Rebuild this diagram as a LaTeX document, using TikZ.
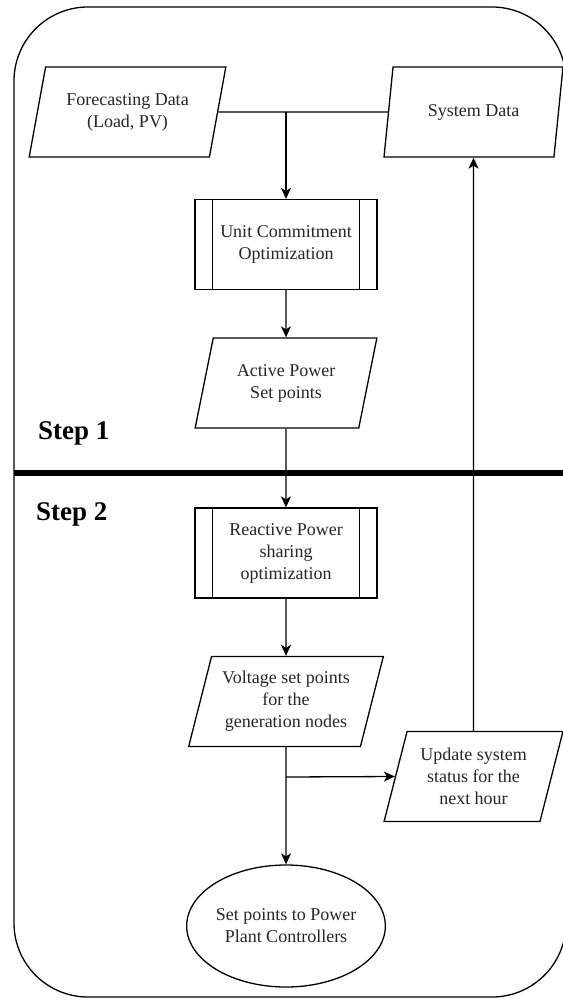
\documentclass[tikz,border=0pt]{standalone}
\usepackage{fontspec}
\setmainfont{Liberation Serif}
\usetikzlibrary{shapes.geometric,arrows.meta}
\begin{document}
\begin{tikzpicture}[x=1pt,y=-1pt,
  every node/.style={font=\rmfamily\fontsize{18}{22}\selectfont, align=center, inner sep=0pt, text=black!85},
  io/.style={draw=black, line width=1.3pt, trapezium, trapezium stretches=true,
    trapezium left angle=72, trapezium right angle=108, minimum height=90pt},
  subproc/.style={draw=black, line width=1.3pt, rectangle, minimum width=182pt, minimum height=90pt},
  term/.style={draw=black, line width=1.3pt, ellipse, minimum width=182pt, minimum height=122pt},
  flow/.style={line width=1.3pt, -{Stealth[length=11pt,width=10pt,inset=3pt]}},
  plain/.style={line width=1.3pt},
  steplabel/.style={font=\rmfamily\bfseries\fontsize{27}{30}\selectfont, anchor=base west, text=black}
]
\useasboundingbox (0,0) rectangle (562,1000);

% outer frame and step separator
\draw[line width=1.3pt, rounded corners=74pt] (14,7) rectangle (566,997);
\draw[line width=6.5pt] (14,473) -- (566,473);
\node[steplabel] (s1) at (38,439) {Step 1};
\node[steplabel] (s2) at (36,520) {Step 2};

% flowchart blocks
\node[io, minimum width=197pt] (fc) at (127.5,112) {Forecasting Data\\(Load, PV)};
\node[io, minimum width=179pt] (sd) at (473.5,112) {System Data};
\node[subproc] (uc) at (286,244.5) {Unit Commitment\\Optimization};
\node[io, minimum width=182pt] (ap) at (286,383) {Active Power\\Set points};
\node[subproc] (rp) at (286,553) {Reactive Power\\sharing\\optimization};
\node[io, minimum width=195pt] (vs) at (286,701.5) {Voltage set points\\for the\\generation nodes};
\node[io, minimum width=179pt] (us) at (473.5,776.5) {Update system\\status for the\\next hour};
\node[term] (ell) at (286,926) {Set points to Power\\Plant Controllers};

% side bars of the predefined-process boxes
\foreach \n in {uc,rp} {
  \draw[plain] ([xshift=18pt]\n.north west) -- ([xshift=18pt]\n.south west);
  \draw[plain] ([xshift=-18pt]\n.north east) -- ([xshift=-18pt]\n.south east);
}

% connectors
\coordinate (j1) at (286,112);
\coordinate (j2) at (286,777);
\draw[plain] (fc.east) -- (sd.west);
\draw[flow] (j1) -- (uc.north);
\draw[flow] (uc.south) -- (ap.north);
\draw[flow] (ap.south) -- (rp.north);
\draw[flow] (rp.south) -- (vs.north);
\draw[flow] (vs.south) -- (ell.north);
\draw[flow] (j2) -- (us.west);
\draw[flow] (us.north) -- (sd.south);
\end{tikzpicture}
\end{document}
